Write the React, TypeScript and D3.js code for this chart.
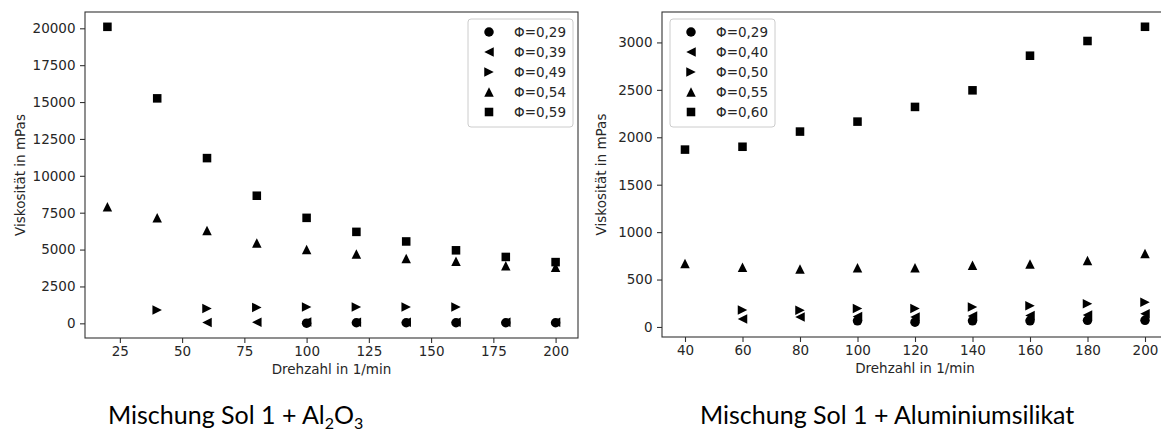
import React, { useEffect, useRef } from 'react';
import * as d3 from 'd3';

// Left panel: Sol 1 + Al2O3
const leftDrehzahl = [20, 40, 60, 80, 100, 120, 140, 160, 180, 200];
const leftPhi = ['Φ=0,29', 'Φ=0,39', 'Φ=0,49', 'Φ=0,54', 'Φ=0,59'];
const left029 = [null, null, null, null, 10, 40, 40, 40, 40, 40];
const left039 = [null, null, 60, 70, 90, 80, 80, 80, 70, 70];
const left049 = [null, 900, 1000, 1080, 1100, 1100, 1100, 1100, null, null];
const left054 = [7900, 7150, 6300, 5450, 5000, 4700, 4400, 4200, 3900, 3800];
const left059 = [20100, 15250, 11200, 8650, 7150, 6200, 5550, 4950, 4500, 4150];
const leftXTicks = [25, 50, 75, 100, 125, 150, 175, 200];
const leftYTicks = [0, 2500, 5000, 7500, 10000, 12500, 15000, 17500, 20000];

// Right panel: Sol 1 + Aluminiumsilikat
const rightDrehzahl = [40, 60, 80, 100, 120, 140, 160, 180, 200];
const rightPhi = ['Φ=0,29', 'Φ=0,40', 'Φ=0,50', 'Φ=0,55', 'Φ=0,60'];
const right029 = [null, null, null, 65, 50, 65, 65, 70, 70];
const right040 = [null, 85, 105, 110, 105, 115, 120, 125, 140];
const right050 = [null, 180, 175, 195, 195, 210, 225, 245, 260];
const right055 = [670, 630, 610, 625, 625, 650, 665, 700, 775];
const right060 = [1870, 1900, 2060, 2165, 2320, 2495, 2860, 3015, 3165];
const rightXTicks = [40, 60, 80, 100, 120, 140, 160, 180, 200];
const rightYTicks = [0, 500, 1000, 1500, 2000, 2500, 3000];

const markers = ['circle', 'tri-left', 'tri-right', 'tri-up', 'square'];

const TICK_FONT = '"DejaVu Sans", sans-serif';
const TEXT = '#262626';
const MS = 9.5;

function markerPath(kind, s) {
  const h = s / 2;
  if (kind === 'circle') {
    return `M${h},0A${h},${h} 0 1,1 ${-h},0A${h},${h} 0 1,1 ${h},0Z`;
  }
  if (kind === 'square') return `M${-h * 0.9},${-h * 0.9}H${h * 0.9}V${h * 0.9}H${-h * 0.9}Z`;
  if (kind === 'tri-up') return `M0,${-h}L${h},${h}L${-h},${h}Z`;
  if (kind === 'tri-left') return `M${-h},0L${h},${-h}L${h},${h}Z`;
  return `M${h},0L${-h},${h}L${-h},${-h}Z`;
}

function drawPanel(root, cfg) {
  const { x0, x1, y0, y1, xs, series, labels, xTicks, yTicks, legendX, legendY } = cfg;
  const g = root.append('g');

  const all = series.flat().filter((v) => v != null);
  const [ymin, ymax] = d3.extent(all);
  const [xmin, xmax] = d3.extent(xs);
  const xpad = (xmax - xmin) * 0.05;
  const ypad = (ymax - ymin) * 0.05;

  const x = d3.scaleLinear().domain([xmin - xpad, xmax + xpad]).range([x0, x1]);
  const y = d3.scaleLinear().domain([ymin - ypad, ymax + ypad]).range([y1, y0]);

  const xAxis = g.append('g')
    .attr('transform', `translate(0,${y1})`)
    .call(d3.axisBottom(x).tickValues(xTicks).tickSize(5).tickPadding(3.5).tickFormat(d3.format('d')));
  const yAxis = g.append('g')
    .attr('transform', `translate(${x0},0)`)
    .call(d3.axisLeft(y).tickValues(yTicks).tickSize(5).tickPadding(4.5).tickFormat(d3.format('d')));

  [xAxis, yAxis].forEach((a) => {
    a.select('.domain').remove();
    a.selectAll('line').attr('stroke', '#333').attr('stroke-width', 1.1);
    a.selectAll('text')
      .attr('fill', TEXT)
      .style('font-family', TICK_FONT)
      .style('font-size', '13.5px');
  });

  g.append('rect')
    .attr('x', x0).attr('y', y0)
    .attr('width', x1 - x0).attr('height', y1 - y0)
    .attr('fill', 'none').attr('stroke', '#333').attr('stroke-width', 1.1);

  series.forEach((vals, i) => {
    g.append('g').selectAll('path')
      .data(xs.map((d, j) => ({ d, v: vals[j] })).filter((p) => p.v != null))
      .enter()
      .append('path')
      .attr('d', markerPath(markers[i], MS))
      .attr('transform', (p) => `translate(${x(p.d)},${y(p.v)})`)
      .attr('fill', 'black');
  });

  g.append('text')
    .attr('x', (x0 + x1) / 2).attr('y', y1 + 36)
    .attr('text-anchor', 'middle')
    .attr('fill', TEXT)
    .style('font-family', TICK_FONT).style('font-size', '13.5px')
    .text('Drehzahl in 1/min');

  g.append('text')
    .attr('transform', `translate(${cfg.ylabelX},${(y0 + y1) / 2}) rotate(-90)`)
    .attr('text-anchor', 'middle')
    .attr('dominant-baseline', 'central')
    .attr('fill', TEXT)
    .style('font-family', TICK_FONT).style('font-size', '13.5px')
    .text('Viskosität in mPas');

  // legend
  const lg = g.append('g').attr('transform', `translate(${legendX},${legendY})`);
  lg.append('rect')
    .attr('width', 105).attr('height', 108)
    .attr('rx', 3)
    .attr('fill', 'white').attr('fill-opacity', 0.8)
    .attr('stroke', '#cccccc').attr('stroke-width', 1);
  labels.forEach((lab, i) => {
    const row = 13 + i * 20;
    lg.append('path')
      .attr('d', markerPath(markers[i], MS))
      .attr('transform', `translate(21,${row})`)
      .attr('fill', 'black');
    lg.append('text')
      .attr('x', 46).attr('y', row)
      .attr('dominant-baseline', 'central')
      .attr('fill', TEXT)
      .style('font-family', TICK_FONT).style('font-size', '13.5px')
      .text(lab);
  });
}

export default function App() {
  const ref = useRef(null);

  useEffect(() => {
    const svg = d3.select(ref.current);
    svg.selectAll('*').remove();

    drawPanel(svg, {
      x0: 85, x1: 578, y0: 12, y1: 338,
      xs: leftDrehzahl,
      series: [left029, left039, left049, left054, left059],
      labels: leftPhi,
      xTicks: leftXTicks, yTicks: leftYTicks,
      legendX: 468, legendY: 19, ylabelX: 20,
    });

    drawPanel(svg, {
      x0: 662, x1: 1168, y0: 12, y1: 337,
      xs: rightDrehzahl,
      series: [right029, right040, right050, right055, right060],
      labels: rightPhi,
      xTicks: rightXTicks, yTicks: rightYTicks,
      legendX: 670, legendY: 19, ylabelX: 601,
    });

    const titles = svg.append('g')
      .style('font-family', 'Lato, "Open Sans", sans-serif')
      .style('font-size', '25px')
      .attr('fill', 'black');

    const t1 = titles.append('text').attr('x', 108).attr('y', 424);
    t1.append('tspan').text('Mischung Sol 1 + Al');
    t1.append('tspan').attr('font-size', '16px').attr('dy', 5).text('2');
    t1.append('tspan').attr('dy', -5).text('O');
    t1.append('tspan').attr('font-size', '16px').attr('dy', 5).text('3');

    titles.append('text').attr('x', 700).attr('y', 424).text('Mischung Sol 1 + Aluminiumsilikat');
  }, []);

  return (
    <svg
      ref={ref}
      width={1161}
      height={439}
      style={{ position: 'absolute', left: 0, top: 0, background: 'white' }}
    />
  );
}
